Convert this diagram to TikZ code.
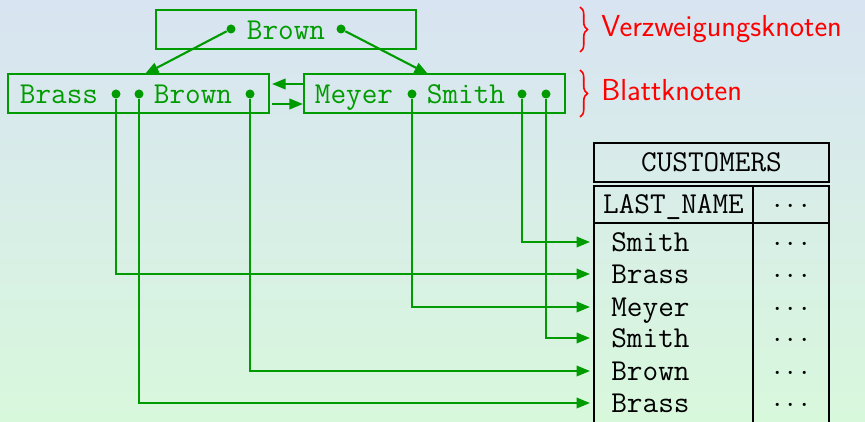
\documentclass[tikz,border=0pt]{standalone}
\usepackage{fontspec}
\usetikzlibrary{arrows.meta,decorations.pathreplacing}
\definecolor{treegreen}{RGB}{0,155,0}
\definecolor{bgtop}{RGB}{216,228,242}
\definecolor{bgbottom}{RGB}{216,248,220}
\begin{document}
\begin{tikzpicture}[x=0.02cm,y=-0.02cm,
  box/.style={draw=treegreen,line width=1.2pt,minimum height=0.78cm,inner sep=0pt},
  key/.style={text=treegreen,font=\LARGE\ttfamily,inner sep=0pt,text height=10.5pt,text depth=0pt},
  tid/.style={circle,fill=treegreen,inner sep=0pt,minimum size=0.18cm},
  ptr/.style={draw=treegreen,line width=1.2pt,-{Triangle[length=0.27cm,width=0.21cm]}},
  cell/.style={font=\LARGE\ttfamily,inner sep=0pt,text height=10.5pt,text depth=0pt},
  tbl/.style={draw=black,line width=1.2pt},
  lbl/.style={text=red,font=\LARGE\sffamily,anchor=west,inner sep=0pt,text height=12pt,text depth=0pt},
  brc/.style={draw=red,line width=0.9pt,decorate,decoration={brace,amplitude=0.15cm}}]
  \useasboundingbox (0,0) rectangle (865,422);
  \shade[top color=bgtop,bottom color=bgbottom] (0,0) rectangle (865,422);
  % B-tree nodes
  \node[box,minimum width=5.2cm] (root) at (286,29.5) {};
  \node[box,minimum width=5.22cm] (leafA) at (138.5,93.5) {};
  \node[box,minimum width=5.22cm] (leafB) at (434.5,93.5) {};
  \node[key] at (286,30) {Brown};
  \node[key] at (59,94) {Brass};
  \node[key] at (193,94) {Brown};
  \node[key] at (354,94) {Meyer};
  \node[key] at (466,94) {Smith};
  \node[tid] (r1) at (231,29) {};
  \node[tid] (r2) at (341,29) {};
  \node[tid] (a1) at (116,94) {};
  \node[tid] (a2) at (139,94) {};
  \node[tid] (a3) at (250,94) {};
  \node[tid] (c1) at (412,94) {};
  \node[tid] (c2) at (522,94) {};
  \node[tid] (c3) at (546,94) {};
  \coordinate (pa) at (145,74);
  \coordinate (pb) at (428,74);
  \draw[ptr] (r1) -- (pa);
  \draw[ptr] (r2) -- (pb);
  \draw[ptr] ([yshift=0.19cm]leafB.west) -- ([yshift=0.19cm,xshift=0.04cm]leafA.east);
  \draw[ptr] ([yshift=-0.21cm,xshift=0.04cm]leafA.east) -- ([yshift=-0.21cm]leafB.west);
  % braces
  \draw[brc] (580,7) -- (580,52);
  \draw[brc] (580,70) -- (580,117);
  \node[lbl] at (601,26) {Verzweigungsknoten};
  \node[lbl] at (601,90) {Blattknoten};
  % table
  \node[tbl,cell,minimum width=4.7cm,minimum height=0.78cm] (customers) at (711.5,162.5) {CUSTOMERS};
  \draw[tbl] (594,422) -- (594,186) -- (829,186) -- (829,422);
  \draw[tbl] (594,223) -- (829,223);
  \draw[tbl] (753,186) -- (753,422);
  \node[cell] (lastname) at (673.5,204.5) {LAST\_NAME};
  \node[cell] at (791,204.5) {$\cdots$};
  \foreach \name/\y [count=\i] in {Smith/242,Brass/274,Meyer/307,Smith/338,Brown/371,Brass/403} {
    \node[cell,anchor=west] (row\i) at (611,\y) {\name};
    \node[cell] at (791,\y) {$\cdots$};
  }
  \foreach \src/\i in {c2/1,a1/2,c1/3,c3/4,a3/5,a2/6}
    \draw[ptr] (\src) |- ([xshift=-0.42cm]row\i.west);
\end{tikzpicture}
\end{document}
